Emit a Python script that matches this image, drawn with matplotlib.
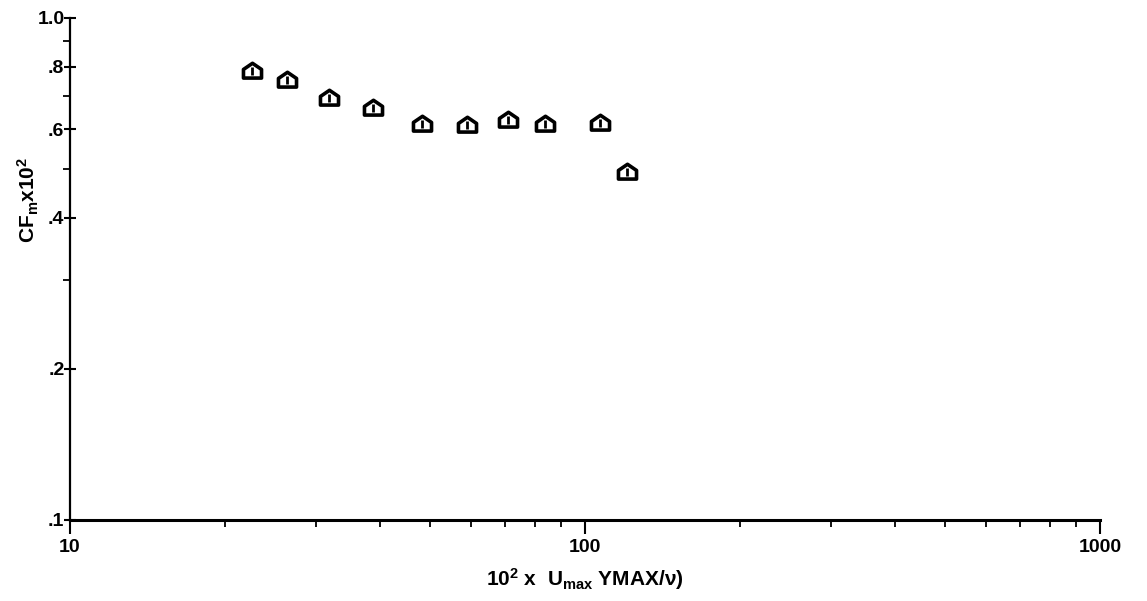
import matplotlib
matplotlib.use("Agg")
import matplotlib.pyplot as plt
from matplotlib.path import Path
from matplotlib.ticker import FixedLocator, FixedFormatter, NullFormatter

plt.rcParams['font.family'] = ['Liberation Sans', 'DejaVu Sans']
plt.rcParams['mathtext.fontset'] = 'custom'
plt.rcParams['mathtext.rm'] = 'Liberation Sans:bold'
plt.rcParams['mathtext.bf'] = 'Liberation Sans:bold'
plt.rcParams['mathtext.it'] = 'Liberation Sans:bold'

# data
reynolds = [22.6, 26.4, 31.8, 38.8, 48.2, 58.9, 71.0, 83.6, 107.0, 120.5]
cf = [0.785, 0.752, 0.692, 0.663, 0.615, 0.612, 0.627, 0.615, 0.617, 0.494]

x_major = [10, 100, 1000]
x_major_labels = ["10", "100", "1000"]
y_major = [0.1, 0.2, 0.4, 0.6, 0.8, 1.0]
y_major_labels = [".1", ".2", ".4", ".6", ".8", "1.0"]
y_minor = [0.3, 0.5, 0.7, 0.9]

fig = plt.figure(figsize=(11.47, 6.01), dpi=100)
ax = fig.add_axes([70/1147, 81/601, 1030/1147, 502/601])
ax.set_xscale('log')
ax.set_yscale('log')
ax.set_xlim(10, 1000)
ax.set_ylim(0.1, 1.0)

house = Path([(-1.1, -0.8), (1.1, -0.8), (1.1, 0.25), (0, 1.0), (-1.1, 0.25), (-1.1, -0.8)],
             [Path.MOVETO, Path.LINETO, Path.LINETO, Path.LINETO, Path.LINETO, Path.CLOSEPOLY])
ax.plot(reynolds, cf, linestyle='none', marker=house, markersize=13,
        markerfacecolor='white', markeredgecolor='black', markeredgewidth=2.6, clip_on=False)
ax.plot(reynolds, cf, linestyle='none', marker='|', markersize=6,
        markeredgecolor='black', markeredgewidth=2.0, clip_on=False)

for s in ['top', 'right']:
    ax.spines[s].set_visible(False)
ax.spines['left'].set_linewidth(1.6)
ax.spines['bottom'].set_linewidth(2.2)

ax.xaxis.set_major_locator(FixedLocator(x_major))
ax.xaxis.set_major_formatter(FixedFormatter(x_major_labels))
ax.xaxis.set_minor_formatter(NullFormatter())
ax.yaxis.set_major_locator(FixedLocator(y_major))
ax.yaxis.set_major_formatter(FixedFormatter(y_major_labels))
ax.yaxis.set_minor_locator(FixedLocator(y_minor))
ax.yaxis.set_minor_formatter(NullFormatter())

ax.tick_params(axis='x', which='major', direction='out', length=10, width=1.5,
               labelsize=14, pad=4)
ax.tick_params(axis='x', which='minor', direction='out', length=5, width=1.3)
ax.tick_params(axis='y', which='major', direction='inout', length=8, width=1.5,
               labelsize=14, pad=0)
ax.tick_params(axis='y', which='minor', direction='out', length=5, width=1.3)
for lab in ax.get_xticklabels() + ax.get_yticklabels():
    lab.set_fontweight('bold')

ax.set_xlabel(r"$10^{2}$ x  U$_{\mathbf{max}}$ YMAX/$\nu$)", fontsize=15,
              fontweight='bold', labelpad=7)
fig.text(28/1147, 1 - 200/601, r"CF$_{\mathbf{m}}$x10$^{2}$", rotation=90,
         fontsize=15, fontweight='bold', ha='center', va='center')

fig.savefig("out.png", dpi=100, facecolor='white')
